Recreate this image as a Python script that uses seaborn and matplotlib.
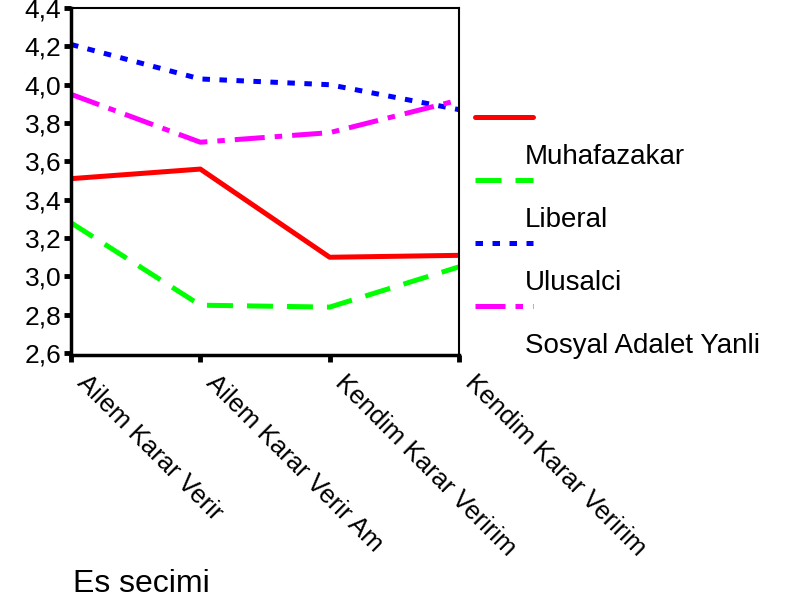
import numpy as np
import pandas as pd
import matplotlib
matplotlib.use("Agg")
import matplotlib.pyplot as plt
from matplotlib.lines import Line2D
import seaborn as sns

categories = ["Ailem Karar Verir", "Ailem Karar Verir Am",
              "Kendim Karar Veririm", "Kendim Karar Veririm"]
muhafazakar = [3.51, 3.56, 3.10, 3.11]
liberal = [3.28, 2.85, 2.84, 3.05]
ulusalci = [4.21, 4.03, 4.00, 3.87]
sosyal_adalet = [3.95, 3.70, 3.75, 3.92]
groups = ["Muhafazakar", "Liberal", "Ulusalci", "Sosyal Adalet Yanli"]

sns.set_style("white")
plt.rcParams["font.family"] = ["Liberation Sans", "DejaVu Sans"]
plt.rcParams["text.color"] = "black"
plt.rcParams["xtick.color"] = "black"
plt.rcParams["ytick.color"] = "black"

colors = ["#ff0000", "#00ff00", "#0000ff", "#ff00ff"]
dashes = [(None, None), (5.2, 2.8), (1.5, 1.9), (6, 2, 1.5, 2)]
lw = 3.6

rows = []
for g, vals in zip(groups, [muhafazakar, liberal, ulusalci, sosyal_adalet]):
    for i, v in enumerate(vals):
        rows.append({"group": g, "pos": i, "value": v})
df = pd.DataFrame(rows)

fig = plt.figure(figsize=(7.94, 6.04), dpi=100)
ax = fig.add_axes([0.0894, 0.4122, 0.4887, 0.5745])

for g, c, d in zip(groups, colors, dashes):
    sub = df[df["group"] == g]
    sns.lineplot(data=sub, x="pos", y="value", ax=ax, color=c, lw=lw,
                 legend=False)
    if d[0] is not None:
        ax.lines[-1].set_dashes(d)
        ax.lines[-1].set_dash_capstyle("butt")

ax.set_xlim(0, 3)
ax.set_ylim(2.59, 4.4)
yt = np.arange(2.6, 4.41, 0.2)
ax.set_yticks(yt)
ax.set_yticklabels([f"{t:.1f}".replace(".", ",") for t in yt], fontsize=19)
ax.set_xticks(range(4))
ax.set_xticklabels([])
# rotated category labels, hanging down-right from each tick
for i, cat in enumerate(categories):
    ax.annotate(cat, xy=(i, 0), xycoords=("data", "axes fraction"),
                xytext=(7, -17), textcoords="offset points",
                rotation=-45, rotation_mode="anchor", ha="left", va="center",
                fontsize=18.5, annotation_clip=False)
ax.tick_params(axis="both", direction="out", length=5, width=3.5, color="black",
               bottom=True, left=True, pad=2)
ax.set_xlabel("")
ax.set_ylabel("")

for side in ["left", "bottom"]:
    ax.spines[side].set_linewidth(2.5)
    ax.spines[side].set_color("black")
for side in ["top", "right"]:
    ax.spines[side].set_linewidth(1.5)
    ax.spines[side].set_color("black")

fig.text(73 / 794, 1 - 584 / 604, "Es secimi", fontsize=23, va="center", ha="left")

# SPSS-style legend: line sample, then its label below
line_y = [117, 180, 243, 306]
for g, c, d, ly in zip(groups, colors, dashes, line_y):
    ln = Line2D([475 / 794, 533 / 794], [1 - ly / 604, 1 - ly / 604],
                transform=fig.transFigure, color=c, lw=lw)
    if d[0] is not None:
        ln.set_dashes(d)
        ln.set_dash_capstyle("butt")
    fig.add_artist(ln)
    fig.text(525 / 794, 1 - (ly + 40) / 604, g, fontsize=20,
             va="center", ha="left")

fig.savefig("out.png", dpi=100, facecolor="white")
